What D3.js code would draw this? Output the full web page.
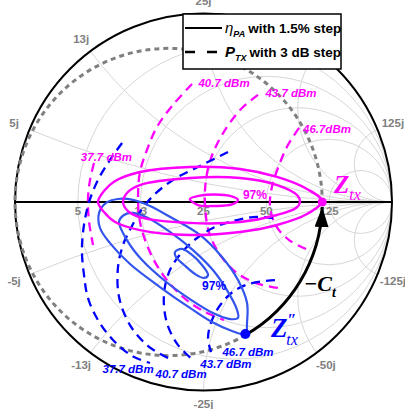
<!doctype html>
<html lang="en">
<head>
<meta charset="utf-8">
<title>Load-pull contours on a Smith chart</title>
<script src="https://cdn.jsdelivr.net/npm/d3@7"></script>
<style>
  * { margin: 0; padding: 0; }
  body { width: 405px; height: 409px; overflow: hidden; background: #fff; }
  svg { display: block; font-family: "Liberation Sans", Arial, sans-serif; }
</style>
</head>
<body>
<svg id="chart" width="405" height="409"></svg>
<script>
// Smith chart grid, normalised to z0 = 25 ohm
const resistanceGrid = [0.2, 0.5, 1, 2, 5];
const resistanceLabels = ["5", "13", "25", "50", "125"];
const reactanceGrid = [0.2, 0.5, 1, 2, 5];
const reactanceLabels = ["5j", "13j", "25j", "50j", "125j"];

// all contour points are reflection coefficients [re, im]
// eta_PA contours seen at Z_tx (1.5 % step, inner one is 97 %)
const etaZtx94 = [[-0.560, 0], [-0.528, 0.058], [-0.469, 0.111], [-0.337, 0.159], [-0.072, 0.186], [0.194, 0.175],
  [0.390, 0.133], [0.549, 0.069], [0.629, 0.005], [0.549, -0.064], [0.390, -0.122], [0.194, -0.159],
  [-0.072, -0.175], [-0.337, -0.149], [-0.469, -0.106], [-0.528, -0.053]];
const etaZtx955 = [[-0.427, 0], [-0.401, 0.053], [-0.337, 0.090], [-0.072, 0.127], [0.194, 0.127], [0.390, 0.090],
  [0.496, 0.037], [0.512, 0], [0.491, -0.032], [0.390, -0.069], [0.194, -0.106], [-0.072, -0.111],
  [-0.337, -0.080], [-0.401, -0.048]];
const etaZtx97 = [[-0.072, 0.016], [-0.019, 0.034], [0.061, 0.040], [0.141, 0.032], [0.183, 0.011],
  [0.151, -0.013], [0.061, -0.021], [-0.029, -0.016]];

// eta_PA contours seen at Z''_tx
const etaZtx2_94 = [[-0.554, -0.058], [-0.517, -0.005], [-0.454, 0.016], [-0.374, 0.011], [-0.284, -0.021],
  [-0.167, -0.085], [-0.019, -0.175], [0.098, -0.292], [0.183, -0.414], [0.231, -0.536], [0.231, -0.637],
  [0.222, -0.700], [0.151, -0.684], [0.045, -0.637], [-0.072, -0.562], [-0.231, -0.451], [-0.390, -0.329],
  [-0.496, -0.218], [-0.549, -0.138]];
const etaZtx2_955 = [[-0.448, -0.106], [-0.422, -0.069], [-0.374, -0.058], [-0.294, -0.085], [-0.178, -0.159],
  [-0.056, -0.255], [0.050, -0.361], [0.130, -0.477], [0.178, -0.573], [0.183, -0.615], [0.141, -0.621],
  [0.050, -0.589], [-0.072, -0.515], [-0.204, -0.419], [-0.326, -0.308], [-0.406, -0.202]];
const etaZtx2_97 = [[-0.151, -0.265], [-0.114, -0.249], [-0.061, -0.281], [-0.008, -0.334], [0.024, -0.387],
  [0.003, -0.403], [-0.045, -0.382], [-0.103, -0.334], [-0.146, -0.292]];

// P_TX contours (3 dB step)
const ptxLabels = ["37.7 dBm", "40.7 dBm", "43.7 dBm", "46.7 dBm"];
const ptxZtx = [
  [[-0.581, 0.207], [-0.602, 0.117], [-0.613, 0.011], [-0.607, -0.106], [-0.586, -0.228]],
  [[-0.061, 0.626], [-0.167, 0.509], [-0.247, 0.398], [-0.300, 0.276], [-0.337, 0.159], [-0.347, 0.037],
   [-0.337, -0.106], [-0.289, -0.255], [-0.215, -0.387], [-0.109, -0.504], [-0.003, -0.578], [0.109, -0.626]],
  [[0.289, 0.568], [0.194, 0.488], [0.098, 0.355], [0.040, 0.233], [0.013, 0.117], [0.008, -0.016],
   [0.029, -0.159], [0.088, -0.281], [0.178, -0.377], [0.279, -0.430], [0.395, -0.456]],
  [[0.507, 0.393], [0.448, 0.302], [0.401, 0.196], [0.363, 0.080], [0.353, -0.027], [0.385, -0.127],
   [0.454, -0.202], [0.544, -0.249]]
];
const ptxZtx2 = [
  [[-0.432, 0.313], [-0.496, 0.223], [-0.560, 0.117], [-0.607, 0], [-0.634, -0.122], [-0.645, -0.255],
   [-0.634, -0.387], [-0.613, -0.509], [-0.560, -0.626], [-0.480, -0.732], [-0.379, -0.817], [-0.284, -0.854]],
  [[0.130, 0.265], [-0.019, 0.191], [-0.162, 0.117], [-0.268, 0.032], [-0.337, -0.053], [-0.385, -0.138],
   [-0.427, -0.228], [-0.454, -0.350], [-0.448, -0.504], [-0.390, -0.653], [-0.294, -0.764], [-0.188, -0.828]],
  [[0.369, -0.085], [0.263, -0.080], [0.156, -0.101], [0.050, -0.138], [-0.034, -0.191], [-0.109, -0.260],
   [-0.178, -0.361], [-0.210, -0.493], [-0.194, -0.642], [-0.135, -0.759], [-0.056, -0.838]],
  [[0.379, -0.414], [0.257, -0.430], [0.162, -0.472], [0.093, -0.541], [0.045, -0.626], [0.024, -0.721],
   [0.040, -0.796]]
];
// where the P_TX labels sit
const ptxZtxLabelAt = [[-0.515, 0.238], [0.109, 0.630], [0.464, 0.578], [0.655, 0.387]];
const ptxZtx2LabelAt = [[-0.400, -0.885], [-0.119, -0.915], [0.119, -0.862], [0.236, -0.798]];
const etaLabelAtZtx = [0.273, 0.037];
const etaLabelAtZtx2 = [0.056, -0.446];

// impedance points
const zTx = [0.630, 0];
const zTx2 = [0.222, -0.700];

const cx = 203.5, cy = 202, R = 188.5;
const magenta = "#ff00ff", blueDash = "#0000ff", blueSolid = "#3355ee", gridGrey = "#d6d6d6", labelGrey = "#808080";

const svg = d3.select("#chart");
const x = d3.scaleLinear().domain([-1, 1]).range([cx - R, cx + R]);
const y = d3.scaleLinear().domain([-1, 1]).range([cy + R, cy - R]);
const len = d3.scaleLinear().domain([0, 1]).range([0, R]);

svg.append("defs").append("clipPath").attr("id", "unit")
  .append("circle").attr("cx", x(0)).attr("cy", y(0)).attr("r", len(1));

// grid
const grid = svg.append("g").attr("clip-path", "url(#unit)")
  .attr("fill", "none").attr("stroke", gridGrey).attr("stroke-width", 1);
grid.selectAll("circle.r").data(resistanceGrid).join("circle").attr("class", "r")
  .attr("cx", r => x(r / (1 + r))).attr("cy", y(0)).attr("r", r => len(1 / (1 + r)));
grid.selectAll("circle.x").data(reactanceGrid.flatMap(v => [v, -v])).join("circle").attr("class", "x")
  .attr("cx", x(1)).attr("cy", v => y(1 / v)).attr("r", v => len(Math.abs(1 / v)));

svg.append("circle").attr("cx", x(0)).attr("cy", y(0)).attr("r", len(1))
  .attr("fill", "none").attr("stroke", "#000").attr("stroke-width", 2);
svg.append("line").attr("x1", x(-1)).attr("x2", x(1)).attr("y1", y(0)).attr("y2", y(0))
  .attr("stroke", "#000").attr("stroke-width", 2);

// grid labels
const labels = svg.append("g").attr("fill", labelGrey).attr("font-size", 11.5).attr("font-weight", "bold")
  .attr("text-anchor", "middle");
labels.selectAll("text.r").data(resistanceGrid).join("text").attr("class", "r")
  .attr("x", r => x((r - 1) / (r + 1))).attr("y", y(0) + 13)
  .text((r, i) => resistanceLabels[i]);
// the +50j label sits under the legend box, so it is left out
const reactPts = reactanceGrid.flatMap((v, i) => [
  { v, label: reactanceLabels[i] }, { v: -v, label: "-" + reactanceLabels[i] }])
  .filter(d => d.v !== 2);
function gammaOfX(v) {
  // gamma = (jv - 1)/(jv + 1)
  const d = 1 + v * v;
  return [(v * v - 1) / d, 2 * v / d];
}
labels.selectAll("text.x").data(reactPts).join("text").attr("class", "x")
  .attr("dominant-baseline", "central")
  .attr("x", d => { const g = gammaOfX(d.v); return x(0) + g[0] * (len(1) + 13 + 4 * Math.abs(g[0])); })
  .attr("y", d => { const g = gammaOfX(d.v); return y(0) - g[1] * (len(1) + 13 + 4 * Math.abs(g[0])); })
  .text(d => d.label);

// constant conductance circle through Z_tx
const gc = -(1 - zTx[0]) / (1 + zTx[0]) / (1 + (1 - zTx[0]) / (1 + zTx[0]));
const gRad = zTx[0] - gc;
const aStart = Math.atan2(y(zTx2[1]) - y(0), x(zTx2[0]) - x(gc));
const pDash = d3.path();
pDash.arc(x(gc), y(0), len(gRad), aStart, 2 * Math.PI, false);
svg.append("path").attr("d", pDash.toString()).attr("fill", "none")
  .attr("stroke", "#808080").attr("stroke-width", 3).attr("stroke-dasharray", "5,4");

const closed = d3.line().x(d => x(d[0])).y(d => y(d[1])).curve(d3.curveCatmullRomClosed.alpha(0.5));
const open = d3.line().x(d => x(d[0])).y(d => y(d[1])).curve(d3.curveCatmullRom.alpha(0.5));

// P_TX dashed contours
svg.append("g").selectAll("path").data(ptxZtx).join("path").attr("d", open)
  .attr("fill", "none").attr("stroke", magenta).attr("stroke-width", 2.3).attr("stroke-dasharray", "9,6");
svg.append("g").selectAll("path").data(ptxZtx2).join("path").attr("d", open)
  .attr("fill", "none").attr("stroke", blueDash).attr("stroke-width", 2.3).attr("stroke-dasharray", "9,6");

// eta contours
svg.append("g").selectAll("path").data([etaZtx2_94, etaZtx2_955, etaZtx2_97]).join("path").attr("d", closed)
  .attr("fill", "none").attr("stroke", blueSolid).attr("stroke-width", 2.2);
svg.append("g").selectAll("path").data([etaZtx94, etaZtx955, etaZtx97]).join("path").attr("d", closed)
  .attr("fill", "none").attr("stroke", magenta).attr("stroke-width", 2.4);

// -C_t move along the conductance circle
svg.append("defs").append("marker").attr("id", "arrow").attr("markerUnits", "userSpaceOnUse")
  .attr("markerWidth", 22).attr("markerHeight", 14).attr("refX", 20).attr("refY", 7).attr("orient", "auto")
  .append("path").attr("d", "M0,0L20,7L0,14Z").attr("fill", "#000");
const tipAngle = Math.asin(5 / len(gRad));
const pArc = d3.path();
pArc.arc(x(gc), y(0), len(gRad), aStart, tipAngle, true);
svg.append("path").attr("d", pArc.toString()).attr("fill", "none").attr("stroke", "#000")
  .attr("stroke-width", 3).attr("marker-end", "url(#arrow)");

svg.append("circle").attr("cx", x(zTx[0])).attr("cy", y(zTx[1])).attr("r", 4.5).attr("fill", magenta);
svg.append("circle").attr("cx", x(zTx2[0])).attr("cy", y(zTx2[1])).attr("r", 5).attr("fill", blueDash);

// contour labels
const tl = svg.append("g").attr("font-size", 11.5).attr("font-weight", "bold").attr("font-style", "italic")
  .attr("text-anchor", "middle").attr("dominant-baseline", "central");
tl.selectAll("text.m").data(ptxZtxLabelAt).join("text").attr("class", "m")
  .attr("x", d => x(d[0])).attr("y", d => y(d[1])).attr("fill", magenta)
  .text((d, i) => i === 3 ? ptxLabels[i].replace(" ", "") : ptxLabels[i]);
tl.selectAll("text.b").data(ptxZtx2LabelAt).join("text").attr("class", "b")
  .attr("x", d => x(d[0])).attr("y", d => y(d[1])).attr("fill", blueDash)
  .text((d, i) => ptxLabels[i]);
svg.append("text").attr("x", x(etaLabelAtZtx[0])).attr("y", y(etaLabelAtZtx[1]))
  .attr("text-anchor", "middle").attr("dominant-baseline", "central")
  .attr("font-size", 12).attr("font-weight", "bold").attr("fill", magenta).text("97%");
svg.append("text").attr("x", x(etaLabelAtZtx2[0])).attr("y", y(etaLabelAtZtx2[1]))
  .attr("text-anchor", "middle").attr("dominant-baseline", "central")
  .attr("font-size", 12).attr("font-weight", "bold").attr("fill", blueDash).text("97%");

// impedance names
const serif = '"Liberation Serif", "Times New Roman", serif';
const zl = svg.append("text").attr("x", 334).attr("y", 193).attr("fill", magenta)
  .attr("font-family", serif).attr("font-style", "italic").attr("font-weight", "bold");
zl.append("tspan").attr("font-size", 25).text("Z");
zl.append("tspan").attr("font-size", 16).attr("font-weight", "normal").attr("dy", 7).text("tx");

const zl2 = svg.append("text").attr("x", 271).attr("y", 337).attr("fill", blueDash)
  .attr("font-family", serif).attr("font-style", "italic").attr("font-weight", "bold");
zl2.append("tspan").attr("font-size", 27).text("Z");
zl2.append("tspan").attr("font-size", 16).attr("dx", 0).attr("dy", -12).text("\u2033");
zl2.append("tspan").attr("font-size", 16).attr("font-weight", "normal").attr("dx", -10).attr("dy", 20).text("tx");

const ct = svg.append("text").attr("x", 304).attr("y", 291).attr("fill", "#000")
  .attr("font-family", serif).attr("font-style", "italic").attr("font-weight", "bold");
ct.append("tspan").attr("font-size", 22).text("\u2212C");
ct.append("tspan").attr("font-size", 14).attr("dy", 6).text("t");

// legend
const lg = svg.append("g");
lg.append("rect").attr("x", 183).attr("y", 14).attr("width", 158).attr("height", 55)
  .attr("fill", "#fff").attr("stroke", "#000").attr("stroke-width", 1.5);
lg.append("line").attr("x1", 185).attr("x2", 222).attr("y1", 28).attr("y2", 28)
  .attr("stroke", "#000").attr("stroke-width", 2);
lg.append("line").attr("x1", 185).attr("x2", 222).attr("y1", 52).attr("y2", 52)
  .attr("stroke", "#000").attr("stroke-width", 2.5).attr("stroke-dasharray", "10,12");
const t1 = lg.append("text").attr("x", 225).attr("y", 33).attr("font-size", 13.5).attr("font-weight", "bold");
t1.append("tspan").attr("font-style", "italic").attr("font-weight", "normal").attr("font-size", 15).text("\u03b7");
t1.append("tspan").attr("font-style", "italic").attr("font-size", 9).attr("dy", 4).text("PA");
t1.append("tspan").attr("dy", -4).attr("dx", 3).text("with 1.5% step");
const t2 = lg.append("text").attr("x", 225).attr("y", 57).attr("font-size", 13.5).attr("font-weight", "bold");
t2.append("tspan").attr("font-style", "italic").attr("font-size", 15).text("P");
t2.append("tspan").attr("font-style", "italic").attr("font-size", 9).attr("dy", 4).text("TX");
t2.append("tspan").attr("dy", -4).attr("dx", 3).text("with 3 dB step");
</script>
</body>
</html>
